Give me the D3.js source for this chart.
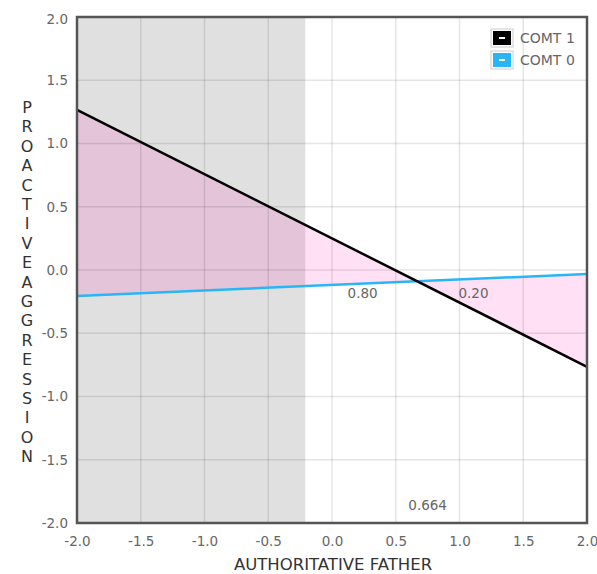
<!DOCTYPE html>
<html><head><meta charset="utf-8">
<script src="https://cdn.jsdelivr.net/npm/d3@7"></script>
<style>body{margin:0;background:#fff;} text{font-family:"DejaVu Sans",Verdana,sans-serif;}</style>
</head><body>
<svg id="c" width="597" height="574"></svg>
<script>
const xTicks = [-2.0,-1.5,-1.0,-0.5,0.0,0.5,1.0,1.5,2.0];
const yTicks = [-2.0,-1.5,-1.0,-0.5,0.0,0.5,1.0,1.5,2.0];
const seriesNames = ["COMT 1","COMT 0"];
const seriesColors = ["#000000","#29b6f6"];
const xEnds = [-2, 2];
const comt1 = [1.265, -0.765];
const comt0 = [-0.205, -0.032];
const regionBoundary = -0.21;   // Johnson-Neyman boundary (shaded left)
const crossing = 0.664;
const regionLabels = [{x:0.24, y:-0.22, t:"0.80"}, {x:1.11, y:-0.22, t:"0.20"}];
const xTitle = "AUTHORITATIVE FATHER";
const yTitle = "PROACTIVEAGGRESSION";

const fmt = d => d.toFixed(1);
const svg = d3.select("#c");
const L=77, R=587, T=17, B=523;
const x = d3.scaleLinear().domain([-2,2]).range([L,R]);
const y = d3.scaleLinear().domain([-2,2]).range([B,T]);
const f1 = v => comt1[0] + (comt1[1]-comt1[0])*(v-xEnds[0])/(xEnds[1]-xEnds[0]);
const f0 = v => comt0[0] + (comt0[1]-comt0[0])*(v-xEnds[0])/(xEnds[1]-xEnds[0]);

// shaded region
svg.append("rect").attr("x",x(-2)).attr("y",y(2)).attr("width",x(regionBoundary)-x(-2)).attr("height",y(-2)-y(2)).attr("fill","#e0e0e0");

// fills between lines
const leftPts = [[-2,f1(-2)],[crossing,f1(crossing)],[-2,f0(-2)]];
const rightPts = [[crossing,f1(crossing)],[2,f0(2)],[2,f1(2)]];
[leftPts,rightPts].forEach(p=>{
  svg.append("path").attr("d", d3.line().x(d=>x(d[0])).y(d=>y(d[1]))(p)+"Z")
    .attr("fill","rgb(255,0,170)").attr("fill-opacity",0.12);
});

// grid
svg.append("g").selectAll("line").data(xTicks.slice(1,-1)).join("line")
  .attr("x1",d=>x(d)).attr("x2",d=>x(d)).attr("y1",T).attr("y2",B)
  .attr("stroke","#000").attr("stroke-opacity",0.1).attr("stroke-width",1.5);
svg.append("g").selectAll("line").data(yTicks.slice(1,-1)).join("line")
  .attr("y1",d=>y(d)).attr("y2",d=>y(d)).attr("x1",L).attr("x2",R)
  .attr("stroke","#000").attr("stroke-opacity",0.1).attr("stroke-width",1.5);

// lines
svg.append("path").attr("d",d3.line().x(d=>x(d[0])).y(d=>y(d[1]))([[xEnds[0],comt0[0]],[xEnds[1],comt0[1]]]))
  .attr("stroke",seriesColors[1]).attr("stroke-width",2.5).attr("fill","none");
svg.append("path").attr("d",d3.line().x(d=>x(d[0])).y(d=>y(d[1]))([[xEnds[0],comt1[0]],[xEnds[1],comt1[1]]]))
  .attr("stroke",seriesColors[0]).attr("stroke-width",2.5).attr("fill","none");

// region labels
svg.append("g").selectAll("text").data(regionLabels).join("text")
  .attr("x",d=>x(d.x)).attr("y",d=>y(d.y)).attr("text-anchor","middle")
  .attr("font-size",13.5).attr("fill","#666").text(d=>d.t);
svg.append("text").attr("x",x(0.75)).attr("y",y(-1.9)).attr("text-anchor","middle")
  .attr("font-size",13.5).attr("fill","#666").text(crossing.toFixed(3));

// border
svg.append("rect").attr("x",L).attr("y",T).attr("width",R-L).attr("height",B-T)
  .attr("fill","none").attr("stroke","#555").attr("stroke-width",2.5);

// axes
const xa = svg.append("g").attr("transform",`translate(0,${B})`)
  .call(d3.axisBottom(x).tickValues(xTicks).tickFormat(fmt).tickSize(0).tickPadding(13));
const ya = svg.append("g").attr("transform",`translate(${L},0)`)
  .call(d3.axisLeft(y).tickValues(yTicks).tickFormat(fmt).tickSize(0).tickPadding(9));
[xa,ya].forEach(a=>{a.select(".domain").remove(); a.selectAll("text").attr("font-size",13.5).attr("fill","#666").attr("font-family","DejaVu Sans, Verdana, sans-serif");});
ya.selectAll("text").attr("dy","0.32em");
ya.selectAll("text").filter(d=>d===2).attr("dy","0.5em");

// titles
svg.append("text").attr("x",333).attr("y",570).attr("text-anchor","middle")
  .attr("font-size",16.5).attr("fill","#333").text(xTitle);
svg.append("g").selectAll("text").data(yTitle.split("")).join("text")
  .attr("x",27).attr("y",(d,i)=>113+i*19.4).attr("text-anchor","middle")
  .attr("font-size",16).attr("fill","#333").text(d=>d);

// legend
const lg = svg.append("g");
seriesNames.forEach((n,i)=>{
  const yy = 30 + i*22;
  lg.append("rect").attr("x",491).attr("y",yy-1).attr("width",22).attr("height",18).attr("fill","#fff").attr("stroke","#ccc");
  lg.append("rect").attr("x",493).attr("y",yy+1).attr("width",18).attr("height",14).attr("fill",seriesColors[i]);
  lg.append("line").attr("x1",499).attr("x2",505).attr("y1",yy+8).attr("y2",yy+8).attr("stroke","#fff").attr("stroke-width",2);
  lg.append("text").attr("x",520).attr("y",yy+13).attr("font-size",14).attr("fill","#666").text(n);
});
</script>
</body></html>
